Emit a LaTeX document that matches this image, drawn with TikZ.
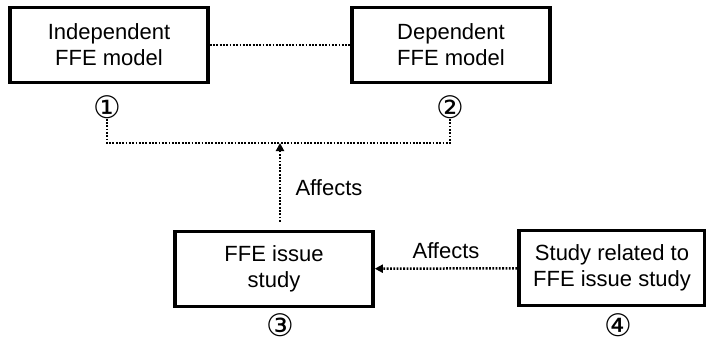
\documentclass[tikz,border=0pt]{standalone}
\usepackage{fontspec}
\setmainfont{Liberation Sans}
\newfontfamily\circfont{DejaVu Sans}
\usetikzlibrary{arrows.meta}

\begin{document}
\begin{tikzpicture}[x=1pt,y=-1pt,
  box/.style={draw,line width=3.6pt,minimum width=198pt,minimum height=75pt,align=center,font=\fontsize{22}{26}\selectfont},
  num/.style={inner sep=0pt,font=\circfont\fontsize{31}{31}\selectfont},
  link/.style={line width=2.5pt,dash pattern=on 1.8pt off 1.5pt},
  tip/.style={-{Triangle[width=8pt,length=8pt]}},
  lbl/.style={font=\fontsize{22}{26}\selectfont}]
\useasboundingbox (0,0) rectangle (706,345);
\node[box] (indep) at (109,45) {Independent\\FFE model};
\node[box] (dep) at (451,45) {Dependent\\FFE model};
\node[box] (issue) at (274,269) {FFE issue\\study};
\node[box,minimum width=186pt] (related) at (612,268) {Study related to\\FFE issue study};
\node[num] (n1) at (107,107) {①};
\node[num] (n2) at (450,107) {②};
\node[num] (n3) at (280,325) {③};
\node[num] (n4) at (618,325) {④};
\coordinate (hub) at (280,143);
\draw[link] (indep) -- (dep);
\draw[link] (n1.south) |- (hub) -| (n2.south);
\draw[link,tip,shorten <=8pt] (issue.north -| hub) -- (hub);
\node[lbl,anchor=west] (aff1) at (292,188) {Affects};
\draw[link,tip] (related) -- (issue);
\node[lbl] (aff2) at (446,251) {Affects};
\end{tikzpicture}
\end{document}
